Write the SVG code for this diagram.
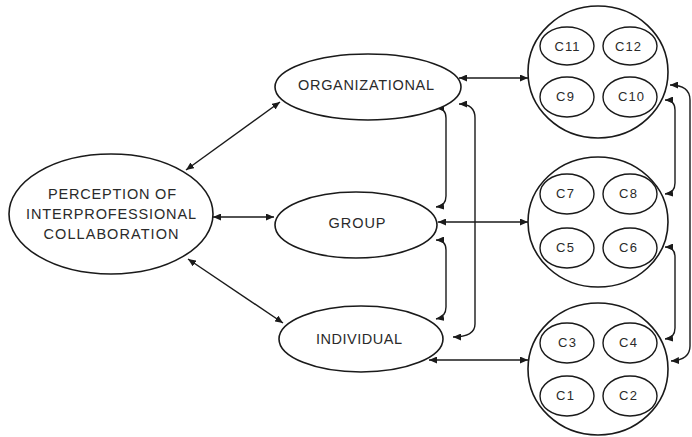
<svg xmlns="http://www.w3.org/2000/svg" width="692" height="437" viewBox="0 0 692 437">
<defs>
<marker id="ah" markerUnits="userSpaceOnUse" markerWidth="9" markerHeight="7" refX="8" refY="3.5" orient="auto-start-reverse">
<path d="M0,0 L8,3.5 L0,7 z" fill="#1a1a1a"/>
</marker>
<style>
.shape{fill:#fff;stroke:#1a1a1a;stroke-width:1.6}
.inner{fill:none;stroke:#1a1a1a;stroke-width:1.4}
.lbl{font-family:"Liberation Sans",Arial,sans-serif;font-size:14.5px;fill:#2a2a2a;text-anchor:middle}
.cl{font-family:"Liberation Sans",Arial,sans-serif;font-size:13px;fill:#2a2a2a;text-anchor:middle}
.conn{fill:none;stroke:#1a1a1a;stroke-width:1.4;marker-start:url(#ah);marker-end:url(#ah)}
</style>
</defs>
<rect width="692" height="437" fill="#fff"/>

<g id="connectors">
<path class="conn" d="M186,170 L280,102"/>
<path class="conn" d="M213,217 L274,217"/>
<path class="conn" d="M188,259 L283,323"/>
<path class="conn" d="M459,78 L528,78"/>
<path class="conn" d="M438,222 L528,222"/>
<path class="conn" d="M429,360 L528,360"/>
<path class="conn" d="M436,108 Q446,108 446,118 L446,196 Q446,206 436,207"/>
<path class="conn" d="M436,240 Q446,240 446,250 L446,307 Q446,317 436,319"/>
<path class="conn" d="M459,104 Q475,104 475,118 L475,324 Q475,337 453,337"/>
<path class="conn" d="M665,100 Q675,100 675,110 L675,183 Q675,193 665,194"/>
<path class="conn" d="M665,247 Q675,247 675,257 L675,328 Q675,338 665,339"/>
<path class="conn" d="M670,85 Q690,85 690,100 L690,346 Q690,360 671,361"/>
</g>

<g id="perception">
<ellipse class="shape" cx="111" cy="214" rx="102" ry="60"/>
<text class="lbl" x="112" y="199" textLength="128" lengthAdjust="spacing">PERCEPTION OF</text>
<text class="lbl" x="111" y="219" textLength="170" lengthAdjust="spacing">INTERPROFESSIONAL</text>
<text class="lbl" x="111" y="239" textLength="135" lengthAdjust="spacing">COLLABORATION</text>
</g>

<g id="organizational">
<ellipse class="shape" cx="368" cy="87" rx="93" ry="33"/>
<text class="lbl" x="366" y="90" textLength="136" lengthAdjust="spacing">ORGANIZATIONAL</text>
</g>

<g id="group">
<ellipse class="shape" cx="356" cy="225" rx="81" ry="33"/>
<text class="lbl" x="357" y="228" textLength="57" lengthAdjust="spacing">GROUP</text>
</g>

<g id="individual">
<ellipse class="shape" cx="361" cy="339" rx="82" ry="33"/>
<text class="lbl" x="359" y="344" textLength="86" lengthAdjust="spacing">INDIVIDUAL</text>
</g>

<g id="cluster-org">
<ellipse class="shape" cx="598" cy="72" rx="70" ry="66"/>
<ellipse class="inner" cx="567" cy="46" rx="27" ry="19"/>
<ellipse class="inner" cx="630" cy="46" rx="27" ry="19"/>
<ellipse class="inner" cx="567" cy="97" rx="27" ry="20"/>
<ellipse class="inner" cx="630" cy="97" rx="27" ry="20"/>
<text class="cl" x="567" y="51" textLength="25" lengthAdjust="spacing">C11</text>
<text class="cl" x="628" y="51" textLength="26" lengthAdjust="spacing">C12</text>
<text class="cl" x="565" y="101" textLength="18" lengthAdjust="spacing">C9</text>
<text class="cl" x="631" y="101" textLength="26" lengthAdjust="spacing">C10</text>
</g>

<g id="cluster-group">
<ellipse class="shape" cx="598" cy="222" rx="70" ry="65"/>
<ellipse class="inner" cx="567" cy="194" rx="27" ry="20"/>
<ellipse class="inner" cx="630" cy="194" rx="27" ry="20"/>
<ellipse class="inner" cx="567" cy="248" rx="27" ry="20"/>
<ellipse class="inner" cx="630" cy="248" rx="27" ry="20"/>
<text class="cl" x="565" y="198" textLength="18" lengthAdjust="spacing">C7</text>
<text class="cl" x="628" y="198" textLength="18" lengthAdjust="spacing">C8</text>
<text class="cl" x="565" y="252" textLength="18" lengthAdjust="spacing">C5</text>
<text class="cl" x="628" y="252" textLength="18" lengthAdjust="spacing">C6</text>
</g>

<g id="cluster-individual">
<ellipse class="shape" cx="598" cy="369" rx="70" ry="66"/>
<ellipse class="inner" cx="567" cy="343" rx="27" ry="20"/>
<ellipse class="inner" cx="630" cy="343" rx="27" ry="20"/>
<ellipse class="inner" cx="567" cy="396" rx="27" ry="20"/>
<ellipse class="inner" cx="630" cy="396" rx="27" ry="20"/>
<text class="cl" x="567" y="347" textLength="18" lengthAdjust="spacing">C3</text>
<text class="cl" x="628" y="347" textLength="18" lengthAdjust="spacing">C4</text>
<text class="cl" x="565" y="400" textLength="18" lengthAdjust="spacing">C1</text>
<text class="cl" x="628" y="400" textLength="18" lengthAdjust="spacing">C2</text>
</g>
</svg>
